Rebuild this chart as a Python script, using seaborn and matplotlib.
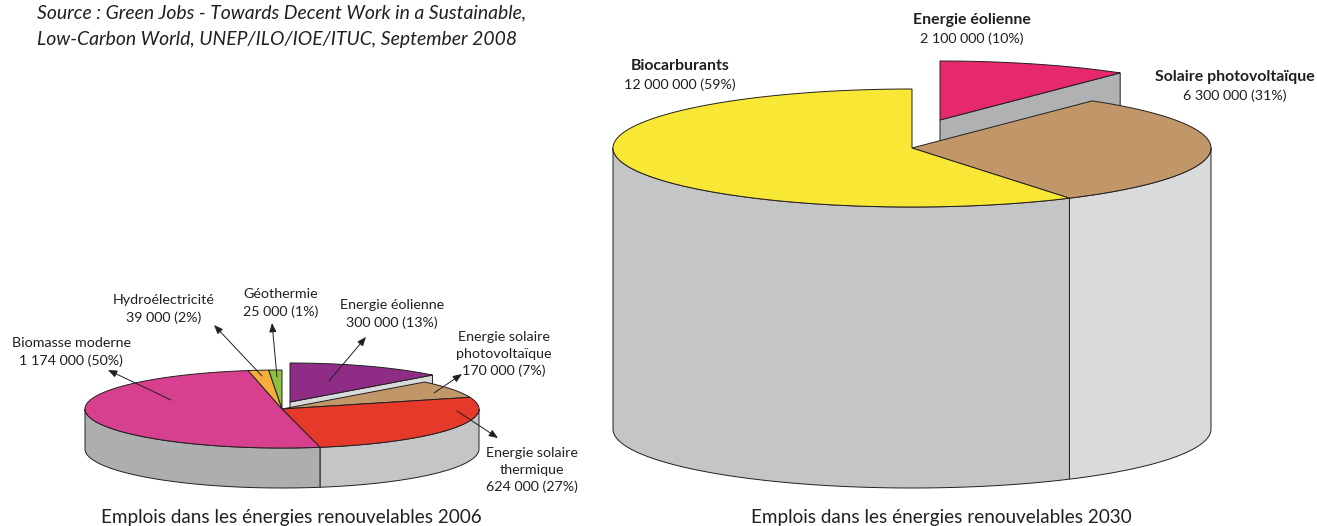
import numpy as np
import matplotlib
matplotlib.use("Agg")
import matplotlib.pyplot as plt
import seaborn as sns

labels_2006 = ["Energie éolienne", "Energie solaire\nphotovoltaïque", "Energie solaire\nthermique",
               "Biomasse moderne", "Hydroélectricité", "Géothermie"]
jobs_2006 = [300000, 170000, 624000, 1174000, 39000, 25000]
pct_2006 = [13, 7, 27, 50, 2, 1]
colors_2006 = ["#8f2d86", "#c1976a", "#e53a29", "#d6408e", "#f5ae3b", "#8dc13f"]
walls_2006 = ["#d9dadc", "#d9dadc", "#c4c5c7", "#adaeb0", "#adaeb0", "#adaeb0"]

labels_2030 = ["Energie éolienne", "Solaire photovoltaïque", "Biocarburants"]
jobs_2030 = [2100000, 6300000, 12000000]
pct_2030 = [10, 31, 59]
colors_2030 = ["#e6286f", "#c1976a", "#f9e735"]
walls_2030 = ["#b0b1b3", "#d9dadc", "#c4c5c7"]

source = "Source : Green Jobs - Towards Decent Work in a Sustainable,\nLow-Carbon World, UNEP/ILO/IOE/ITUC, September 2008"
title_2006 = "Emplois dans les énergies renouvelables 2006"
title_2030 = "Emplois dans les énergies renouvelables 2030"

sns.set_theme(style="white")
plt.rcParams["font.family"] = ["Lato", "DejaVu Sans"]
EDGE = "#231f20"


def rim(cx, cy, rx, ry, a0, a1):
    # angles in radians, clockwise from 12 o'clock
    t = np.linspace(a0, a1, 200)
    return cx + rx * np.sin(t), cy - ry * np.cos(t)


def side(ax, cx, cy, rx, ry, depth, a0, a1, color):
    a0, a1 = max(a0, np.pi / 2), min(a1, 3 * np.pi / 2)
    if a1 <= a0:
        return
    x, y = rim(cx, cy, rx, ry, a0, a1)
    ax.fill(np.r_[x, x[::-1]], np.r_[y, y[::-1] + depth], fc=color, ec=EDGE, lw=0.7)


def pie3d(ax, values, colors, walls, cx, cy, rx, ry, depth, dx, dy):
    # first slice is pulled out by (dx, dy), the rest stays in place
    edges = np.r_[0, np.cumsum(values)] / np.sum(values) * 2 * np.pi

    # pulled out slice: cut face, then top
    ex, ey = rim(cx + dx, cy + dy, rx, ry, edges[0], edges[1])
    ax.fill([cx + dx, ex[-1], ex[-1], cx + dx], [cy + dy, ey[-1], ey[-1] + depth, cy + dy + depth],
            fc=walls[0], ec=EDGE, lw=0.7)
    ax.fill(np.r_[cx + dx, ex], np.r_[cy + dy, ey], fc=colors[0], ec=EDGE, lw=0.7)

    for i in range(1, len(values)):
        side(ax, cx, cy, rx, ry, depth, edges[i], edges[i + 1], walls[i])
    for i in range(1, len(values)):
        x, y = rim(cx, cy, rx, ry, edges[i], edges[i + 1])
        ax.fill(np.r_[cx, x], np.r_[cy, y], fc=colors[i], ec=EDGE, lw=0.7)


def label_text(name, jobs, pct):
    return f"{name}\n{jobs:,} ({pct}%)".replace(",", " ")


fig = plt.figure(figsize=(13.17, 5.26), dpi=100)
ax = fig.add_axes([0, 0, 1, 1])
ax.set_xlim(0, 1317)
ax.set_ylim(526, 0)
ax.axis("off")

pie3d(ax, jobs_2006, colors_2006, walls_2006, 282, 409, 197, 39, 40, 8, -7)
pie3d(ax, jobs_2030, colors_2030, walls_2030, 912, 148, 299, 59, 281, 28, -28)

# labels of the small pie, with their arrows
label_xy = [(392, 314), (504, 354), (532, 470), (71, 352), (164, 309), (281, 303)]
arrow_from = [(329, 381), (434, 393), (457, 411), (171, 400), (262, 376), (277, 377)]
arrow_to = [(366, 337), (462, 374), (498, 438), (108, 370), (214, 325), (272, 323)]
for i in range(len(jobs_2006)):
    ax.text(*label_xy[i], label_text(labels_2006[i], jobs_2006[i], pct_2006[i]),
            ha="center", va="center", fontsize=10.3, color=EDGE, linespacing=1.45)
    ax.annotate("", xy=arrow_to[i], xytext=arrow_from[i],
                arrowprops=dict(arrowstyle="-|>,head_width=0.18,head_length=0.45",
                                color=EDGE, lw=0.7, shrinkA=0, shrinkB=0))

# labels of the big pie, first line in bold
big_xy = [(972, 20), (1235, 77), (680, 66)]
for i in range(len(jobs_2030)):
    x, y = big_xy[i]
    ax.text(x, y, labels_2030[i], ha="center", va="center", fontsize=11.4, weight="bold", color=EDGE)
    ax.text(x, y + 18.5, f"{jobs_2030[i]:,} ({pct_2030[i]}%)".replace(",", " "),
            ha="center", va="center", fontsize=10.3, color=EDGE)

ax.text(291.5, 523, title_2006, ha="center", va="baseline", fontsize=13.55, color=EDGE)
ax.text(941.5, 523, title_2030, ha="center", va="baseline", fontsize=13.55, color=EDGE)
ax.text(37, 26, source, ha="left", va="center", fontsize=13.95, style="italic", color=EDGE, linespacing=1.7)

plt.savefig("out.png", dpi=100)
